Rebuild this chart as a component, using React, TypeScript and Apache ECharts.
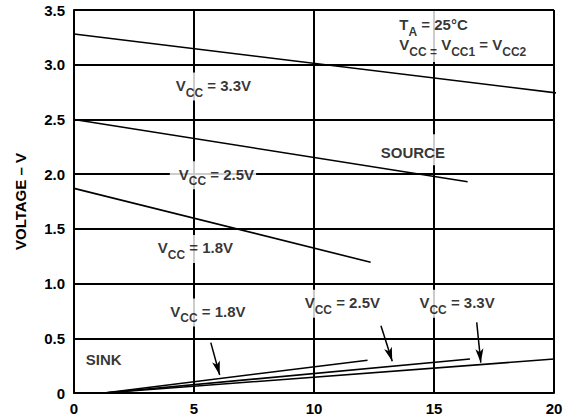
import React, { useEffect, useRef } from "react";
import * as echarts from "echarts";

const xMin = 0;
const xMax = 20;
const xStep = 5;
const yMin = 0;
const yMax = 3.5;
const yStep = 0.5;

// source curves
const source33 = [[0, 3.28], [20.17, 2.74]];
const source25 = [[0, 2.5], [16.4, 1.93]];
const source18 = [[0, 1.87], [12.36, 1.195]];
// sink curves
const sink18 = [[1.25, 0], [12.23, 0.3]];
const sink25 = [[1.25, 0], [16.5, 0.31]];
const sink33 = [[1.25, 0], [20.0, 0.31]];

const arrowLines = [
  [[5.7, 0.46], [6.07, 0.165]],
  [[12.79, 0.615], [13.26, 0.29]],
  [[16.78, 0.646], [16.95, 0.277]],
];

const labelItems = [
  { x: 5.81, y: 2.8, text: "{m|V}{s|CC}{m| = 3.3V}", pad: [3, 4, 5, 4] },
  { x: 5.79, y: 1.99, text: "{m|V}{s|CC}{m| = 2.5V}", pad: [3, 2, 5, 9] },
  { x: 5.06, y: 1.316, text: "{m|V}{s|CC}{m| = 1.8V}", pad: [3, 4, 5, 4] },
  { x: 5.58, y: 0.736, text: "{m|V}{s|CC}{m| = 1.8V}", pad: [3, 4, 5, 4] },
  { x: 11.18, y: 0.816, text: "{m|V}{s|CC}{m| = 2.5V}", pad: [3, 4, 5, 4] },
  { x: 15.96, y: 0.816, text: "{m|V}{s|CC}{m| = 3.3V}", pad: [3, 4, 5, 4] },
  { x: 1.24, y: 0.297, text: "{m|SINK}", pad: [3, 4, 5, 4] },
  { x: 14.12, y: 2.224, text: "{m|SOURCE}", pad: [8, 3, 3, 3] },
];

const condLabel = {
  x: 13.45,
  y: 3.487,
  text: "{m|T}{s|A}{m| = 25°C}\n{m|V}{s|CC =}{m| V}{s|CC1}{m| = V}{s|CC2}",
};

const FONT = "Liberation Sans, Arial, Helvetica, sans-serif";

const rich = {
  m: { fontSize: 15, fontWeight: "bold", fontFamily: FONT, color: "#000", lineHeight: 20 },
  s: {
    fontSize: 12,
    fontWeight: "bold",
    fontFamily: FONT,
    color: "#000",
    lineHeight: 20,
    padding: [14, 0, 0, 0],
  },
};

function lineSeries(data: number[][]) {
  return {
    type: "line",
    data,
    showSymbol: false,
    symbol: "none",
    clip: false,
    lineStyle: { color: "#000", width: 1.6 },
    silent: true,
    z: 3,
  };
}

export default function App() {
  const ref = useRef<HTMLDivElement>(null);
  useEffect(() => {
    if (!ref.current) return;
    const chart = echarts.init(ref.current, undefined, { renderer: "svg" });
    const scatterData: any[] = labelItems.map((l) => ({
      value: [l.x, l.y],
      label: {
        show: true,
        position: "inside",
        align: "center",
        verticalAlign: "middle",
        formatter: l.text,
        rich,
        backgroundColor: "#fff",
        padding: l.pad,
      },
    }));
    scatterData.push({
      value: [condLabel.x, condLabel.y],
      label: {
        show: true,
        position: [0, 0],
        align: "left",
        verticalAlign: "top",
        formatter: condLabel.text,
        rich,
        backgroundColor: "#fff",
        padding: [4, 4, 7, 3],
      },
    });
    chart.setOption({
      animation: false,
      backgroundColor: "#fff",
      grid: { left: 74, right: 20, top: 10, bottom: 26, show: false },
      xAxis: {
        type: "value",
        min: xMin,
        max: xMax,
        interval: xStep,
        axisLine: { show: true, lineStyle: { color: "#000", width: 2 } },
        axisTick: { show: false },
        axisLabel: {
          margin: 8,
          color: "#000",
          fontSize: 15,
          fontWeight: "bold",
          fontFamily: FONT,
        },
        splitLine: { show: true, lineStyle: { color: "#000", width: 2 } },
      },
      yAxis: {
        type: "value",
        min: yMin,
        max: yMax,
        interval: yStep,
        name: "VOLTAGE – V",
        nameLocation: "middle",
        nameGap: 46,
        nameTextStyle: { color: "#000", fontSize: 15, fontWeight: "bold", fontFamily: FONT },
        axisLine: { show: true, lineStyle: { color: "#000", width: 2 } },
        axisTick: { show: false },
        axisLabel: {
          margin: 9,
          color: "#000",
          fontSize: 15,
          fontWeight: "bold",
          fontFamily: FONT,
          formatter: (v: number) => (v === 0 ? "0" : v.toFixed(1)),
        },
        splitLine: { show: true, lineStyle: { color: "#000", width: 2 } },
      },
      series: [
        lineSeries(source33),
        lineSeries(source25),
        lineSeries(source18),
        lineSeries(sink18),
        lineSeries(sink25),
        lineSeries(sink33),
        {
          type: "line",
          data: [],
          silent: true,
          z: 4,
          markLine: {
            silent: true,
            animation: false,
            symbol: ["none", "arrow"],
            symbolSize: [6, 14],
            label: { show: false },
            lineStyle: { color: "#000", width: 1.5, type: "solid" },
            data: arrowLines.map((c) => [{ coord: c[0] }, { coord: c[1] }]),
          },
        },
        {
          type: "scatter",
          data: scatterData,
          symbolSize: 1,
          itemStyle: { color: "rgba(0,0,0,0)" },
          silent: true,
          z: 10,
        },
      ],
    });
    return () => chart.dispose();
  }, []);
  return <div ref={ref} style={{ width: 574, height: 419, position: "absolute", left: 0, top: 0 }} />;
}
